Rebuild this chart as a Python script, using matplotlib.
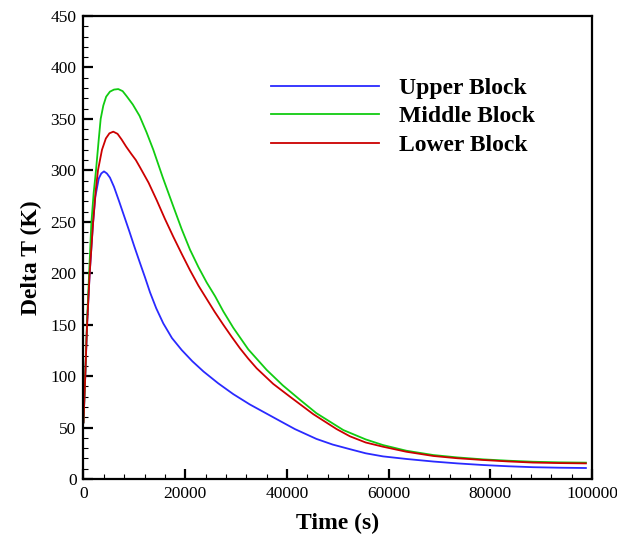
import matplotlib
matplotlib.use("Agg")
import matplotlib.pyplot as plt
from matplotlib.ticker import MultipleLocator

# valores (tiempo en s, delta T en K)
t_upper = [0, 350, 690, 1220, 1870, 2320, 3000, 3500, 4030, 4600, 5200, 6000, 7000,
           8000, 9000, 10000, 11110, 12100, 13080, 14300, 15690, 17400, 19310,
           21400, 23600, 26500, 29460, 32700, 36030, 38800, 41590, 45800, 49000,
           52400, 55500, 58900, 63500, 68800, 73500, 78600, 83500, 88400, 93500, 98800]
v_upper = [55, 100, 148, 200, 248, 274, 292, 297, 299, 297, 293, 284, 270,
           255.5, 241, 226, 210, 196, 181.5, 166, 151.3, 137, 125.4,
           114.5, 104.5, 93, 82.5, 72.5, 63.5, 56, 48.5, 39, 33.5,
           29, 25, 22, 19.5, 17, 15.2, 13.6, 12.4, 11.5, 11.0, 10.7]

t_middle = [0, 350, 690, 1200, 1540, 2000, 2460, 3000, 3380, 3900, 4460, 5200, 6000,
            6840, 7700, 8500, 9700, 11020, 12400, 13730, 15600, 17660, 19300, 20940,
            22600, 24230, 25900, 27490, 29460, 32410, 36030, 39200, 42580, 45800,
            51090, 55500, 58900, 63500, 68800, 73500, 78600, 83500, 88400, 93500, 98800]
v_middle = [55, 102, 152, 210, 248, 278, 300, 330, 350, 363, 371.6, 376.5, 378.5,
            379, 377, 372, 364, 353, 337, 320, 293, 265, 243, 223,
            206, 191, 177.5, 163, 147, 126, 106, 91, 77, 64,
            47.6, 38.5, 33, 27.5, 23.3, 21, 19.1, 17.8, 16.8, 16.2, 15.9]

t_lower = [0, 350, 690, 1220, 1870, 2400, 2850, 3640, 4400, 5100, 5860, 6700, 7500,
           8400, 9400, 10300, 11110, 12800, 14400, 16000, 17660, 19300, 20940, 22600,
           24230, 25800, 27490, 29100, 30780, 32400, 34060, 37300, 40610, 45200, 49790,
           52400, 55500, 58900, 63500, 68800, 73500, 78600, 83500, 88400, 93500, 98800]
v_lower = [55, 100, 148, 200, 248, 280, 300, 320, 331, 336, 337.6, 335.5, 330,
           323, 316, 310, 303, 288, 271, 253, 235.5, 219, 203, 188,
           175, 162.5, 150, 138.5, 127, 117, 107.6, 92.5, 80, 63, 48.5,
           41.5, 35.5, 31.4, 26.5, 22.4, 20.2, 18.5, 17.1, 16.0, 15.5, 15.2]

SERIES = [
    ("Upper Block", t_upper, v_upper, "#2a2aff"),
    ("Middle Block", t_middle, v_middle, "#11cc11"),
    ("Lower Block", t_lower, v_lower, "#cc0000"),
]

plt.rcParams["font.family"] = ["Liberation Serif", "DejaVu Serif"]

fig = plt.figure(figsize=(6.17, 5.36), dpi=100)
ax = fig.add_axes([0.1353, 0.1063, 0.9595 - 0.1353, 0.9701 - 0.1063])

for label, t, v, color in SERIES:
    ax.plot(t, v, color=color, lw=1.3, label=label)

ax.set_xlim(0, 100000)
ax.set_ylim(0, 450)
ax.xaxis.set_major_locator(MultipleLocator(20000))
ax.xaxis.set_minor_locator(MultipleLocator(4000))
ax.yaxis.set_major_locator(MultipleLocator(50))
ax.yaxis.set_minor_locator(MultipleLocator(10))

for sp in ax.spines.values():
    sp.set_linewidth(1.6)

ax.tick_params(which="both", direction="in", top=False, right=False, labelsize=12.5)
ax.tick_params(which="major", length=7, width=1.6, pad=5)
ax.tick_params(which="minor", length=3.5, width=0.8)

ax.set_xlabel("Time (s)", fontsize=17, fontweight="bold")
ax.set_ylabel("Delta T (K)", fontsize=17, fontweight="bold")
ax.xaxis.set_label_coords(0.5, -0.0726)
ax.yaxis.set_label_coords(-0.081, 0.477)

leg = ax.legend(loc="upper left", bbox_to_anchor=(0.368, 0.8676), frameon=False,
                borderpad=0, borderaxespad=0, handlelength=4.6, handletextpad=0.85,
                labelspacing=0.3, prop={"size": 17, "weight": "bold"})

fig.savefig("out.png", dpi=100)
